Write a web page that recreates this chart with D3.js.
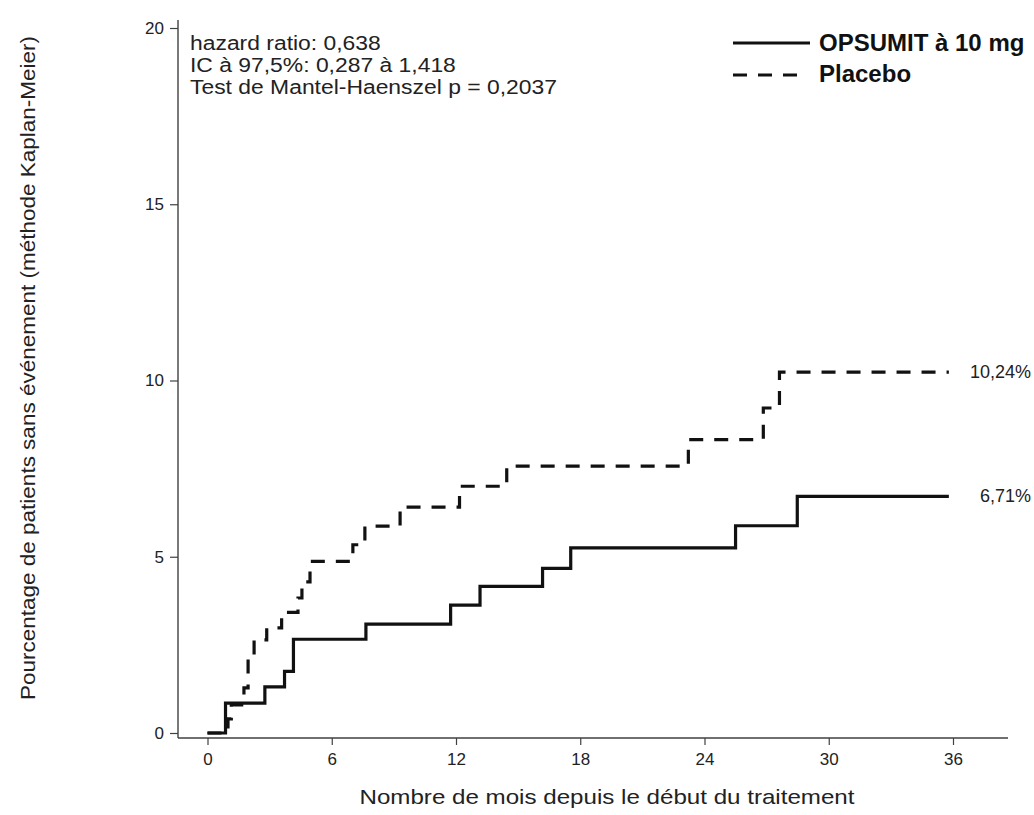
<!DOCTYPE html>
<html>
<head>
<meta charset="utf-8">
<script src="https://cdn.jsdelivr.net/npm/d3@7"></script>
<style>
  body { margin: 0; background: #ffffff; }
  svg { display: block; }
</style>
</head>
<body>
<svg id="mysvg"></svg>
<script>
// months / cumulative % for each arm
var opsumitMonths = [0, 0.87, 2.77, 3.72, 4.15, 7.65, 11.74, 13.16, 16.18, 17.54, 25.5, 28.48, 35.8];
var opsumitValues = [0, 0.85, 1.31, 1.75, 2.66, 3.09, 3.63, 4.16, 4.67, 5.25, 5.88, 6.71, 6.71];

var placeboMonths = [0, 0.99, 1.15, 1.76, 1.96, 2.25, 2.86, 3.58, 4.37, 4.56, 4.95, 7.02, 7.6, 9.3, 12.17, 14.45, 23.22, 26.84, 27.62, 35.8];
var placeboValues = [0, 0.4, 0.8, 1.28, 2.2, 2.64, 2.98, 3.42, 3.83, 4.29, 4.87, 5.34, 5.87, 6.41, 7.0, 7.57, 8.32, 9.22, 10.24, 10.24];

var xTicks = [0, 6, 12, 18, 24, 30, 36];
var yTicks = [0, 5, 10, 15, 20];

var seriesNames = ["OPSUMIT à 10 mg", "Placebo"];
var endLabels = ["6,71%", "10,24%"];
var statsLines = ["hazard ratio: 0,638", "IC à 97,5%: 0,287 à 1,418", "Test de Mantel-Haenszel p = 0,2037"];

var font = "'Liberation Sans', Arial, sans-serif";

var svg = d3.select("svg")
    .attr("width", 1034)
    .attr("height", 815);

svg.append("rect").attr("width", 1034).attr("height", 815).attr("fill", "#ffffff");

var x = d3.scaleLinear().domain([0, 36]).range([207.5, 953]);
var y = d3.scaleLinear().domain([0, 20]).range([733, 28]);

var axisColor = "#404040";

// axis lines
svg.append("line")
    .attr("x1", 178).attr("x2", 1008)
    .attr("y1", 738).attr("y2", 738)
    .attr("stroke", axisColor).attr("stroke-width", 1.4);
svg.append("line")
    .attr("x1", 178).attr("x2", 178)
    .attr("y1", 20).attr("y2", 738)
    .attr("stroke", axisColor).attr("stroke-width", 1.4);

var gx = svg.append("g")
    .attr("transform", "translate(0,738)")
    .call(d3.axisBottom(x).tickValues(xTicks).tickSize(7).tickPadding(8));
gx.select(".domain").remove();

var gy = svg.append("g")
    .attr("transform", "translate(178,0)")
    .call(d3.axisLeft(y).tickValues(yTicks).tickSize(8).tickPadding(6));
gy.select(".domain").remove();

svg.selectAll(".tick line").attr("stroke", axisColor).attr("stroke-width", 1.2);
svg.selectAll(".tick text")
    .attr("fill", "#222222")
    .attr("font-family", font)
    .attr("font-size", "17px");

// axis titles
svg.append("text")
    .attr("x", 607)
    .attr("y", 804)
    .attr("text-anchor", "middle")
    .attr("fill", "#222222")
    .attr("font-family", font)
    .attr("font-size", "21px")
    .attr("textLength", 495)
    .attr("lengthAdjust", "spacingAndGlyphs")
    .text("Nombre de mois depuis le début du traitement");

svg.append("text")
    .attr("transform", "translate(35,368) rotate(-90)")
    .attr("text-anchor", "middle")
    .attr("fill", "#222222")
    .attr("font-family", font)
    .attr("font-size", "21px")
    .attr("textLength", 664)
    .attr("lengthAdjust", "spacingAndGlyphs")
    .text("Pourcentage de patients sans événement (méthode Kaplan-Meier)");

// curves
var line = d3.line()
    .curve(d3.curveStepAfter)
    .x(function(d) { return x(d[0]); })
    .y(function(d) { return y(d[1]); });

var opsumit = d3.zip(opsumitMonths, opsumitValues);
var placebo = d3.zip(placeboMonths, placeboValues);

svg.append("path")
    .datum(placebo)
    .attr("fill", "none")
    .attr("stroke", "#111111")
    .attr("stroke-width", 3.2)
    .attr("stroke-dasharray", "14,11")
    .attr("d", line);

svg.append("path")
    .datum(opsumit)
    .attr("fill", "none")
    .attr("stroke", "#111111")
    .attr("stroke-width", 3.2)
    .attr("d", line);

// end-of-curve percentages
svg.append("text")
    .attr("x", 1031)
    .attr("y", y(opsumitValues[opsumitValues.length - 1]) + 6)
    .attr("text-anchor", "end")
    .attr("fill", "#222222")
    .attr("font-family", font)
    .attr("font-size", "18px")
    .text(endLabels[0]);

svg.append("text")
    .attr("x", 1031)
    .attr("y", y(placeboValues[placeboValues.length - 1]) + 6)
    .attr("text-anchor", "end")
    .attr("fill", "#222222")
    .attr("font-family", font)
    .attr("font-size", "18px")
    .text(endLabels[1]);

// stats block (reference glyphs run a bit wider than Arial)
svg.append("g")
    .attr("transform", "translate(190,0) scale(1.09,1)")
    .selectAll("text")
    .data(statsLines)
    .enter()
    .append("text")
    .attr("x", 0)
    .attr("y", function(d, i) { return 50 + i * 22; })
    .attr("fill", "#222222")
    .attr("font-family", font)
    .attr("font-size", "21px")
    .text(function(d) { return d; });

// legend
var legend = svg.append("g");
legend.append("line")
    .attr("x1", 733).attr("x2", 810)
    .attr("y1", 43).attr("y2", 43)
    .attr("stroke", "#111111").attr("stroke-width", 3);
legend.append("line")
    .attr("x1", 733).attr("x2", 798)
    .attr("y1", 75).attr("y2", 75)
    .attr("stroke", "#111111").attr("stroke-width", 3)
    .attr("stroke-dasharray", "14,11");
legend.selectAll(".lab")
    .data(seriesNames)
    .enter()
    .append("text")
    .attr("class", "lab")
    .attr("x", 819)
    .attr("y", function(d, i) { return 51 + i * 31; })
    .attr("fill", "#111111")
    .attr("font-family", font)
    .attr("font-size", "24px")
    .attr("font-weight", "bold")
    .text(function(d) { return d; });
</script>
</body>
</html>
